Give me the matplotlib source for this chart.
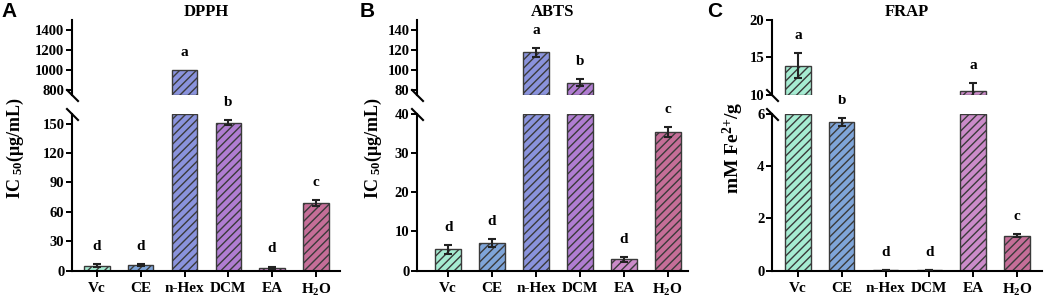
import matplotlib
matplotlib.use('Agg')
import matplotlib.pyplot as plt
import numpy as np

plt.rcParams['font.family'] = ['Liberation Serif', 'DejaVu Serif']
plt.rcParams['font.weight'] = 'bold'
plt.rcParams['mathtext.fontset'] = 'custom'
plt.rcParams['mathtext.rm'] = 'Liberation Serif:bold'
plt.rcParams['mathtext.it'] = 'Liberation Serif:bold'
plt.rcParams['mathtext.bf'] = 'Liberation Serif:bold'
plt.rcParams['mathtext.default'] = 'bf'
plt.rcParams['hatch.linewidth'] = 1.0

# ---------------- data ----------------
categories = ['Vc', 'CE', 'n-Hex', 'DCM', 'EA', 'H$_2$O']
bar_colors = ['#a6ecd2', '#7fa5d9', '#8a93dc', '#b07dd1', '#cb8bc9', '#c56e98']

dpph_values = [5.0, 5.5, 1000, 151, 3.0, 69]
dpph_errors = [1.2, 1.2, 0, 2.5, 1.0, 3.0]
dpph_letters = ['d', 'd', 'a', 'b', 'd', 'c']

abts_values = [5.4, 7.1, 117.5, 87, 2.9, 35.3]
abts_errors = [1.2, 1.0, 4.5, 3.5, 0.6, 1.3]
abts_letters = ['d', 'd', 'a', 'b', 'd', 'c']

frap_values = [13.9, 5.7, 0.02, 0.02, 10.55, 1.33]
frap_errors = [1.7, 0.15, 0.01, 0.01, 1.0, 0.06]
frap_letters = ['a', 'b', 'd', 'd', 'a', 'c']

titles = ['DPPH', 'ABTS', 'FRAP']
panel_tags = ['A', 'B', 'C']
ylabels = ['IC $_{50}$(μg/mL)', 'IC $_{50}$(μg/mL)', 'mM Fe$^{2{+}}$/g']

lower_ticks = [[0, 30, 60, 90, 120, 150], [0, 10, 20, 30, 40], [0, 2, 4, 6]]
upper_ticks = [[800, 1000, 1200, 1400], [80, 100, 120, 140], [10, 15, 20]]
lower_lims = [(0, 160), (0, 40), (0, 6)]
upper_lims = [(750, 1500), (75, 150), (10, 20)]

# ---------------- layout ----------------
W, H = 1045, 302
fig = plt.figure(figsize=(W / 100, H / 100), dpi=100)

panel_left = [72, 417, 772]
panel_right = [340, 688, 1042]
xlims = [(-0.57, 5.55), (-0.71, 5.46), (-0.59, 5.57)]
ylabel_x = [15, 373, 733]
ylabel_size = [13, 13, 14]
tag_x = [1, 360, 707]

low_bottom, low_top = 270.5, 114
up_bottom, up_top = 95, 20

edge = '#3a3a3a'
x = np.arange(len(categories))
series = [(dpph_values, dpph_errors, dpph_letters),
          (abts_values, abts_errors, abts_letters),
          (frap_values, frap_errors, frap_letters)]

for p in range(3):
    vals, errs, letters = series[p]
    vals = np.asarray(vals, float)
    errs = np.asarray(errs, float)
    lo0, lo1 = lower_lims[p]
    up0, up1 = upper_lims[p]
    l = panel_left[p] / W
    w = (panel_right[p] - panel_left[p]) / W
    ax_lo = fig.add_axes([l, 1 - low_bottom / H, w, (low_bottom - low_top) / H])
    ax_up = fig.add_axes([l, 1 - up_bottom / H, w, (up_bottom - up_top) / H], sharex=ax_lo)

    # lower segment: bars capped at the lower limit
    ax_lo.bar(x, np.minimum(vals, lo1), width=0.58, color=bar_colors, edgecolor=edge,
              linewidth=1.0, hatch='////', zorder=2)
    # upper segment: only bars that reach above the break
    tall = vals > up0
    ax_up.bar(x[tall], vals[tall] - up0, bottom=up0, width=0.58,
              color=[c for c, t in zip(bar_colors, tall) if t], edgecolor=edge,
              linewidth=1.0, hatch='////', zorder=2)

    has_err = errs > 0
    for ax in (ax_lo, ax_up):
        ax.errorbar(x[has_err], vals[has_err], yerr=errs[has_err], fmt='none',
                    ecolor='#222222', elinewidth=1.5, capsize=3, capthick=1.5, zorder=3)
        ax.spines['top'].set_visible(False)
        ax.spines['right'].set_visible(False)
        ax.spines['left'].set_linewidth(1.5)
        ax.tick_params(axis='y', length=4, width=1.4, labelsize=10.5, pad=1.5)

    ax_lo.set_ylim(lo0, lo1)
    ax_up.set_ylim(up0, up1)
    ax_lo.set_yticks(lower_ticks[p])
    ax_up.set_yticks(upper_ticks[p])
    ax_lo.set_xlim(*xlims[p])
    ax_lo.set_xticks(x)
    ax_lo.set_xticklabels(categories, fontsize=11, fontweight='bold')
    ax_lo.tick_params(axis='x', length=4, width=1.4, pad=4)
    ax_lo.spines['bottom'].set_linewidth(1.5)
    ax_up.spines['bottom'].set_visible(False)
    ax_up.tick_params(axis='x', bottom=False, labelbottom=False)

    # break marks
    kw = dict(marker=[(-1, 1), (1, -1)], markersize=9, linestyle='none',
              color='k', mec='k', mew=1.5, clip_on=False)
    ax_up.plot([0], [0], transform=ax_up.transAxes, **kw)
    ax_lo.plot([0], [1], transform=ax_lo.transAxes, **kw)

    # significance letters
    for i, (v, e, t) in enumerate(zip(vals, errs, letters)):
        ax = ax_up if v > lo1 else ax_lo
        ax.annotate(t, xy=(i, v + e), xytext=(0, 8), textcoords='offset points',
                    ha='center', va='bottom', fontsize=11, fontweight='bold',
                    annotation_clip=False)

    ax_up.set_title(titles[p], fontsize=12, fontweight='bold', pad=3)
    fig.text(ylabel_x[p] / W, 1 - 148 / H, ylabels[p], rotation=90,
             ha='center', va='center', fontsize=ylabel_size[p], fontweight='bold')
    fig.text(tag_x[p] / W, 1 - 2 / H, panel_tags[p], ha='left', va='top',
             fontsize=15, fontweight='bold', family='Liberation Sans')

fig.savefig('out.png', dpi=100)
